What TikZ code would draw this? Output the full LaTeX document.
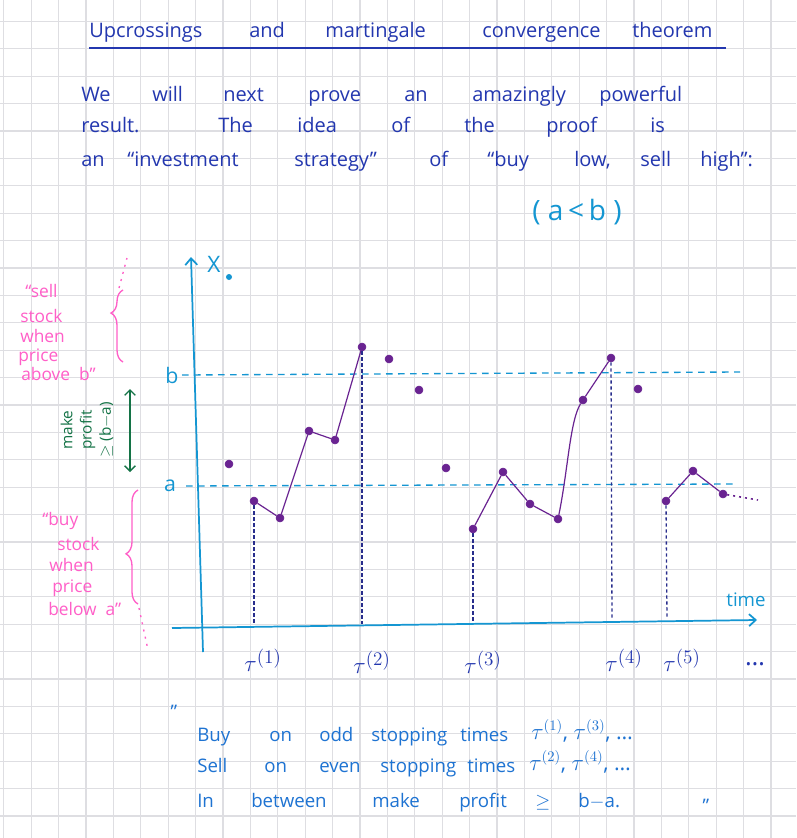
\documentclass[tikz,border=0pt]{standalone}
\usepackage{fontspec}
\setmainfont{Open Sans}
\usetikzlibrary{arrows.meta,decorations.pathreplacing}
\definecolor{gridc}{RGB}{222,222,226}
\definecolor{ink}{RGB}{35,55,175}
\definecolor{inkb}{RGB}{30,115,210}
\definecolor{cyanink}{RGB}{20,150,210}
\definecolor{purp}{RGB}{105,35,145}
\definecolor{pinkink}{RGB}{255,95,200}
\definecolor{greenink}{RGB}{20,115,70}
\definecolor{navy}{RGB}{40,45,140}
\tikzset{
  word/.style={anchor=west, inner sep=0pt, text height=1.6ex, text depth=0.4ex, font=\fontsize{15}{17}\selectfont},
  endword/.style={word, text=inkb, font=\fontsize{14}{16}\selectfont},
  pinkword/.style={word, text=pinkink, font=\fontsize{13}{15}\selectfont},
  pt/.style={circle, fill=purp, draw=purp, inner sep=0pt, minimum size=6pt},
  ptline/.style={purp, line width=0.9pt},
  axis/.style={cyanink, line width=1.3pt, -{Straight Barb[length=5pt,width=9pt]}},
  level/.style={cyanink, line width=1pt, dash pattern=on 5pt off 4pt},
  vdash/.style={navy, line width=1pt, dash pattern=on 2.5pt off 2pt},
  taulab/.style={inner sep=0pt, text=ink, font=\fontsize{19}{21}\selectfont},
  bracestyle/.style={pinkink, line width=1pt, decorate, decoration={brace, amplitude=9pt}},
}
\begin{document}
\begin{tikzpicture}[x=0.75pt,y=-0.75pt]
\useasboundingbox (0,0) rectangle (796,838);
\fill[white] (0,0) rectangle (796,838);
% grid paper
\foreach \i in {0,...,29} \draw[gridc, line width=0.8pt] (3.8+27.4*\i,0) -- (3.8+27.4*\i,838);
\foreach \j in {0,...,30} \draw[gridc, line width=0.8pt] (0,21.4+27.4*\j) -- (796,21.4+27.4*\j);

% title
\foreach \x/\w [count=\k] in {89/Upcrossings, 249/and, 325/martingale, 482/convergence, 632/theorem}
  \node[word, text=ink] (ti\k) at (\x,33) {\w};
\coordinate (ulA) at (89,48);
\coordinate (ulB) at (726,48);
\draw[ink, line width=1pt] (ulA) -- (ulB);

% introduction
\foreach \x/\w [count=\k] in {81/We, 152/will, 223/next, 308/prove, 404/an, 472/amazingly, 599/powerful}
  \node[word, text=ink] (la\k) at (\x,97) {\w};
\foreach \x/\w [count=\k] in {81/result., 218/The, 297/idea, 391/of, 464/the, 546/proof, 650/is}
  \node[word, text=ink] (lb\k) at (\x,128) {\w};
\foreach \x/\w [count=\k] in {81/an, 127/“investment, 294/strategy”, 429/of, 487/“buy, 574/{low,}, 640/sell, 700/high”:}
  \node[word, text=ink] (lc\k) at (\x,162) {\w};
\node[inner sep=0pt, text=cyanink, font=\fontsize{21}{23}\selectfont] (ab) at (577,212) {( a\,<\,b )};

% axes
\coordinate (yb) at (203,652);
\coordinate (yt) at (191,257);
\draw[axis] (yb) -- (yt);
\coordinate (xl) at (172,628);
\coordinate (xr) at (757,620);
\draw[axis] (xl) -- (xr);
\node[inner sep=0pt, text=cyanink, font=\fontsize{17}{19}\selectfont] (xlab) at (214,264) {X};
\node[circle, fill=cyanink, inner sep=0pt, minimum size=4.5pt] (xdot) at (229,277) {};
\node[inner sep=0pt, text=cyanink, font=\fontsize{14}{16}\selectfont] (time) at (746,600) {time};

% levels
\coordinate (bL) at (182,375);
\coordinate (bR) at (740,372);
\coordinate (aL) at (186,486);
\coordinate (aR) at (736,484);
\draw[level] (bL) -- (bR);
\draw[level] (aL) -- (aR);
\node[inner sep=0pt, text=cyanink, font=\fontsize{16}{18}\selectfont] (blab) at (172,375) {b};
\node[inner sep=0pt, text=cyanink, font=\fontsize{16}{18}\selectfont] (alab) at (170,486) {a};

% data points
\node[pt] (p0) at (229,464) {};
\node[pt] (a1) at (254,501) {};
\node[pt] (a2) at (280,518) {};
\node[pt] (a3) at (309,431) {};
\node[pt] (a4) at (335,440) {};
\node[pt] (a5) at (362,347) {};
\node[pt] (q1) at (389,359) {};
\node[pt] (q2) at (419,390) {};
\node[pt] (q3) at (446,468) {};
\node[pt] (b1) at (473,529) {};
\node[pt] (b2) at (503,472) {};
\node[pt] (b3) at (530,504) {};
\node[pt] (b4) at (558,519) {};
\node[pt] (b5) at (583,400) {};
\node[pt] (b6) at (611,358) {};
\node[pt] (q4) at (638,389) {};
\node[pt] (c1) at (666,501) {};
\node[pt] (c2) at (693,471) {};
\node[pt] (c3) at (723,494) {};
\coordinate (cend) at (758,500);
\draw[ptline] (a1) -- (a2) -- (a3) -- (a4) -- (a5);
\draw[ptline] (b1) -- (b2) -- (b3) -- (b4);
\draw[ptline] (b4) .. controls (568,470) and (570,420) .. (b5);
\draw[ptline] (b5) -- (b6);
\draw[ptline] (c1) -- (c2) -- (c3);
\draw[purp, line width=1.2pt, dash pattern=on 1.5pt off 3pt] (c3) -- (cend);

% stopping times
\coordinate (s1) at (254,624);
\coordinate (s2) at (362,624);
\coordinate (s3) at (473,622);
\coordinate (s4) at (612,620);
\coordinate (s5) at (667,619);
\draw[vdash] (a1) -- (s1);
\draw[vdash] (a5) -- (s2);
\draw[vdash] (b1) -- (s3);
\draw[vdash] (b6) -- (s4);
\draw[vdash] (c1) -- (s5);
\node[taulab] (t1) at (263,660) {$\tau^{(1)}$};
\node[taulab] (t2) at (372,662) {$\tau^{(2)}$};
\node[taulab] (t3) at (483,662) {$\tau^{(3)}$};
\node[taulab] (t4) at (624,660) {$\tau^{(4)}$};
\node[taulab] (t5) at (682,660) {$\tau^{(5)}$};
\node[taulab] (tdots) at (755,664) {\dots};

% pink annotations: sell
\node[pinkword] (s-a) at (25,293) {“sell};
\node[pinkword] (s-b) at (20,318) {stock};
\node[pinkword] (s-c) at (20,338) {when};
\node[pinkword] (s-d) at (18,357) {price};
\node[pinkword] (s-e) at (21,376) {above\ \ b”};
\coordinate (brA0) at (123,362);
\coordinate (brA1) at (123,290);
\draw[bracestyle, decoration={aspect=0.68}] (brA0) -- (brA1);
\coordinate (dA0) at (119,288);
\coordinate (dA1) at (127,258);
\draw[pinkink, line width=1pt, dash pattern=on 1.5pt off 4pt] (dA0) -- (dA1);

% pink annotations: buy
\node[pinkword] (b-a) at (42,521) {“buy};
\node[pinkword] (b-b) at (57,546) {stock};
\node[pinkword] (b-c) at (49,567) {when};
\node[pinkword] (b-d) at (52,588) {price};
\node[pinkword] (b-e) at (48,611) {below\ \ a”};
\coordinate (brB0) at (138,604);
\coordinate (brB1) at (138,490);
\draw[bracestyle, decoration={aspect=0.44}] (brB0) -- (brB1);
\coordinate (dB0) at (139,608);
\coordinate (dB1) at (148,650);
\draw[pinkink, line width=1pt, dash pattern=on 1.5pt off 4pt] (dB0) -- (dB1);

% green profit arrow
\coordinate (gT) at (130,389);
\coordinate (gB) at (130,472);
\draw[greenink, line width=1pt, {Straight Barb[length=4pt,width=8pt]}-{Straight Barb[length=4pt,width=8pt]}] (gT) -- (gB);
\node[rotate=90, align=center, inner sep=0pt, text=greenink, font=\fontsize{11.5}{14.5}\selectfont] (profit) at (87,430) {make\\profit\\$\geq$ (b$-$a)};

% conclusion
\node[inner sep=0pt, text=inkb, font=\fontsize{14}{16}\selectfont] (qo) at (174,712) {”};
\foreach \x/\w [count=\k] in {197/Buy, 269/on, 319/odd, 371/stopping, 460/times}
  \node[endword] (ea\k) at (\x,737) {\w};
\node[endword, font=\fontsize{16}{18}\selectfont] (ea6) at (531,735) {$\tau^{(1)}$, $\tau^{(3)}$, \dots};
\foreach \x/\w [count=\k] in {197/Sell, 264/on, 319/even, 380/stopping, 467/times}
  \node[endword] (eb\k) at (\x,768) {\w};
\node[endword, font=\fontsize{16}{18}\selectfont] (eb6) at (529,766) {$\tau^{(2)}$, $\tau^{(4)}$, \dots};
\foreach \x/\w [count=\k] in {197/In, 251/between, 372/make, 459/profit, 535/$\geq$, 578/b$-$a.}
  \node[endword] (ec\k) at (\x,803) {\w};
\node[inner sep=0pt, text=inkb, font=\fontsize{14}{16}\selectfont] (qc) at (706,806) {”};
\end{tikzpicture}
\end{document}
